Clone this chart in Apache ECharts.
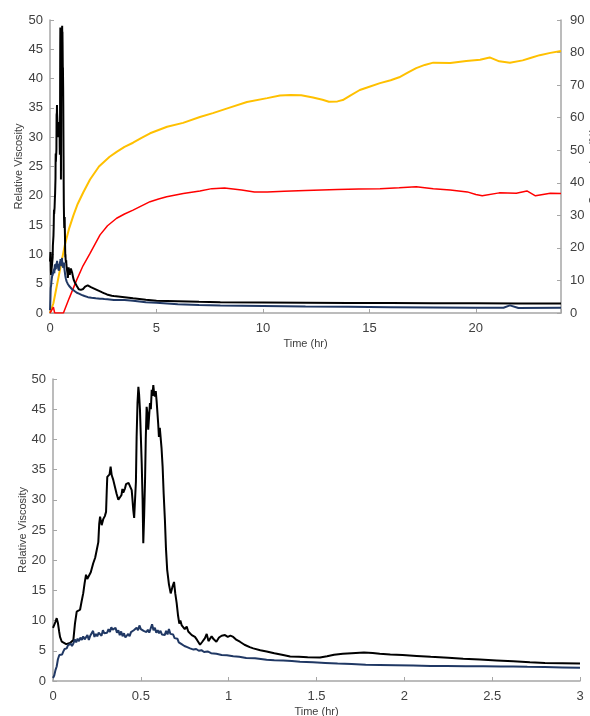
<!DOCTYPE html>
<html lang="en">
  <head>
    <meta charset="UTF-8" />
    <title>Relative Viscosity</title>
    <script src="https://cdn.jsdelivr.net/npm/echarts@6/dist/echarts.min.js"></script>
    <style>
      html, body { margin: 0; padding: 0; background: #fff; }
      #chart { width: 590px; height: 716px; }
    </style>
  </head>
  <body>
    <div id="chart"></div>
    <script>
      // black viscosity curve, first 3 hours (also used in the zoomed chart)
      const blackEarlyT = [0, 0.007, 0.014, 0.021, 0.028, 0.035, 0.04, 0.05, 0.059, 0.075, 0.097, 0.108, 0.116, 0.125, 0.135, 0.145, 0.154, 0.163, 0.172, 0.18, 0.188, 0.195, 0.205, 0.215, 0.229, 0.24, 0.249, 0.258, 0.263, 0.268, 0.277, 0.286, 0.295, 0.302, 0.306, 0.309, 0.316, 0.322, 0.328, 0.334, 0.343, 0.352, 0.362, 0.372, 0.38, 0.39, 0.395, 0.4, 0.41, 0.416, 0.423, 0.43, 0.438, 0.448, 0.452, 0.457, 0.462, 0.467, 0.472, 0.476, 0.481, 0.486, 0.49, 0.495, 0.5, 0.505, 0.51, 0.514, 0.519, 0.524, 0.528, 0.533, 0.538, 0.542, 0.547, 0.552, 0.557, 0.562, 0.566, 0.571, 0.576, 0.58, 0.585, 0.59, 0.594, 0.599, 0.603, 0.608, 0.613, 0.618, 0.624, 0.63, 0.637, 0.643, 0.65, 0.66, 0.67, 0.679, 0.689, 0.696, 0.704, 0.712, 0.719, 0.725, 0.733, 0.742, 0.75, 0.761, 0.77, 0.78, 0.79, 0.808, 0.82, 0.837, 0.85, 0.865, 0.875, 0.885, 0.903, 0.915, 0.93, 0.945, 0.96, 0.979, 0.995, 1.01, 1.026, 1.045, 1.064, 1.09, 1.12, 1.14, 1.18, 1.216, 1.26, 1.31, 1.35, 1.4, 1.45, 1.52, 1.56, 1.6, 1.65, 1.7, 1.77, 1.82, 1.86, 1.92, 1.99, 2.07, 2.15, 2.25, 2.335, 2.43, 2.525, 2.62, 2.715, 2.8, 2.9, 3.0];
      const blackEarlyV = [8.8, 8.7, 9.8, 10.4, 9.6, 8.2, 7.3, 6.5, 6.2, 6.1, 6.3, 6.4, 6.8, 9.5, 11.5, 11.4, 11.8, 13.2, 14.5, 16.2, 17.6, 16.9, 17.1, 18.0, 19.5, 20.4, 21.7, 23.0, 26.0, 27.2, 25.8, 26.8, 27.3, 28.0, 31.5, 33.8, 33.5, 34.2, 35.5, 34.1, 33.3, 32.2, 31.0, 30.0, 29.8, 30.8, 31.8, 31.2, 31.9, 32.6, 32.3, 32.8, 32.7, 31.6, 30.2, 28.3, 27.0, 27.2, 33.0, 40.4, 46.0, 48.7, 47.5, 44.9, 40.5, 36.0, 30.0, 22.8, 27.5, 33.3, 40.0, 45.4, 44.2, 41.6, 43.8, 46.0, 45.0, 48.2, 47.2, 49.0, 47.5, 47.1, 48.0, 46.3, 46.5, 42.5, 40.4, 41.9, 41.8, 38.5, 35.5, 31.0, 26.7, 22.0, 18.4, 16.0, 14.5, 15.5, 16.4, 14.5, 12.9, 10.8, 9.5, 10.0, 9.2, 9.3, 8.6, 9.0, 8.2, 7.9, 7.6, 7.3, 6.8, 6.0, 6.5, 7.1, 7.8, 6.6, 7.4, 6.9, 6.5, 7.2, 7.5, 7.6, 7.3, 7.5, 7.3, 6.8, 6.5, 6.0, 5.6, 5.4, 5.1, 4.9, 4.6, 4.3, 4.05, 4.0, 3.95, 3.9, 4.1, 4.35, 4.5, 4.6, 4.7, 4.65, 4.5, 4.4, 4.3, 4.15, 4.0, 3.85, 3.7, 3.55, 3.4, 3.25, 3.1, 3.0, 2.95, 2.9];
      const blackLateT = [3.5, 3.9, 4.5, 5, 6, 7, 8, 10, 12, 14, 16, 18, 20, 22, 24];
      const blackLateV = [2.7, 2.5, 2.25, 2.1, 2.0, 1.9, 1.85, 1.8, 1.75, 1.7, 1.7, 1.65, 1.65, 1.6, 1.6];

      // navy viscosity curve
      const navyEarlyT = [0, 0.007, 0.014, 0.021, 0.028, 0.036, 0.045, 0.052, 0.059, 0.066, 0.072, 0.078, 0.085, 0.092, 0.1, 0.108, 0.116, 0.124, 0.132, 0.14, 0.148, 0.156, 0.164, 0.172, 0.18, 0.188, 0.196, 0.204, 0.212, 0.22, 0.228, 0.236, 0.244, 0.252, 0.26, 0.268, 0.276, 0.284, 0.292, 0.3, 0.308, 0.316, 0.324, 0.332, 0.34, 0.348, 0.356, 0.364, 0.372, 0.38, 0.388, 0.396, 0.404, 0.412, 0.42, 0.428, 0.436, 0.444, 0.452, 0.46, 0.468, 0.476, 0.484, 0.492, 0.5, 0.508, 0.516, 0.524, 0.532, 0.54, 0.548, 0.556, 0.564, 0.572, 0.58, 0.588, 0.596, 0.604, 0.612, 0.62, 0.628, 0.636, 0.644, 0.652, 0.66, 0.668, 0.676, 0.684, 0.692, 0.7, 0.708, 0.716, 0.724, 0.732, 0.74, 0.748, 0.756, 0.764, 0.772, 0.78, 0.79, 0.8, 0.815, 0.83, 0.845, 0.86, 0.88, 0.9, 0.93, 0.96, 0.99, 1.026, 1.06, 1.1, 1.15, 1.216, 1.26, 1.31, 1.36, 1.406, 1.48, 1.55, 1.62, 1.7, 1.78, 1.86, 1.95, 2.05, 2.15, 2.24, 2.35, 2.45, 2.55, 2.62, 2.7, 2.8, 2.9, 3.0];
      const navyEarlyV = [0.5, 0.9, 1.8, 2.4, 3.6, 4.3, 4.6, 4.4, 4.9, 5.3, 5.0, 5.4, 5.9, 5.6, 6.2, 5.8, 6.2, 6.9, 6.4, 7.0, 6.6, 7.2, 6.8, 7.4, 6.9, 7.1, 7.6, 6.8, 7.5, 7.2, 8.3, 7.3, 7.8, 7.4, 8.0, 7.9, 7.5, 8.4, 7.9, 8.2, 8.0, 8.6, 8.1, 8.9, 8.5, 8.4, 8.8, 8.0, 8.4, 7.6, 8.2, 7.4, 7.9, 7.2, 7.5, 7.8, 7.4, 8.1, 7.8, 8.4, 8.2, 8.8, 8.4, 9.2, 8.6, 8.9, 8.3, 8.6, 8.1, 8.5, 8.0, 8.7, 9.4, 8.4, 8.8, 8.0, 8.4, 7.9, 8.3, 7.7, 8.0, 7.6, 8.3, 7.7, 8.6, 7.8, 7.5, 7.7, 7.1, 6.8, 7.0, 6.4, 6.6, 6.1, 6.3, 5.8, 6.0, 5.6, 5.9, 5.4, 5.6, 5.2, 5.3, 5.0, 5.1, 4.8, 4.9, 4.6, 4.5, 4.3, 4.25, 4.1, 4.0, 3.8, 3.75, 3.5, 3.45, 3.4, 3.3, 3.2, 3.1, 3.0, 2.9, 2.8, 2.7, 2.65, 2.6, 2.55, 2.5, 2.5, 2.45, 2.45, 2.4, 2.4, 2.35, 2.3, 2.25, 2.2];
      const navyLateT = [3.5, 3.9, 4.5, 5, 6, 7, 8, 10, 12, 14, 16, 18, 20, 21.3, 21.6, 22, 24];
      const navyLateV = [2.2, 2.1, 1.85, 1.75, 1.5, 1.37, 1.3, 1.2, 1.1, 1.05, 1.0, 0.95, 0.9, 0.9, 1.3, 0.85, 0.9];

      // right-axis curves (%)
      const yellowT = [0, 0.16, 0.31, 0.55, 0.7, 0.9, 1.1, 1.3, 1.56, 1.88, 2.3, 2.8, 3.13, 3.5, 3.9, 4.3, 4.7, 5.1, 5.5, 6.25, 7.04, 7.65, 8.4, 9.25, 10.2, 10.8, 11.3, 11.8, 12.35, 12.8, 13.1, 13.5, 13.75, 14.1, 14.55, 15.0, 15.5, 16.0, 16.4, 16.8, 17.2, 17.6, 18.0, 18.8, 19.55, 20.2, 20.65, 21.1, 21.6, 22.2, 22.6, 23.0, 23.5, 24];
      const yellowV = [0, 3, 8, 16, 21, 26, 30, 33.5, 37, 41, 45, 48, 49.5, 51, 52.3, 53.8, 55.2, 56.2, 57.2, 58.4, 60.2, 61.4, 63, 64.8, 66, 66.8, 67, 66.9, 66.2, 65.5, 64.9, 65, 65.4, 66.8, 68.5, 69.5, 70.6, 71.5, 72.4, 73.8, 75.2, 76.2, 76.9, 76.8, 77.4, 77.8, 78.5, 77.3, 76.9, 77.6, 78.4, 79.2, 79.9, 80.5];
      const redT = [0, 0.08, 0.16, 0.22, 0.63, 0.9, 1.25, 1.55, 1.88, 2.35, 2.7, 3.13, 3.5, 3.9, 4.3, 4.7, 5.1, 5.48, 6.26, 7.04, 7.6, 8.2, 9.0, 9.6, 10.2, 11, 12, 13.5, 14.5, 15.5, 16.4, 17.2, 18, 18.8, 19.6, 20.0, 20.3, 21.1, 21.9, 22.4, 22.8, 23.5, 24];
      const redV = [0, 0.5, 1.8, 0, 0, 4.5, 10.1, 14.5, 18.3, 24, 26.8, 29.1, 30.4, 31.6, 32.9, 34.2, 35, 35.7, 36.7, 37.5, 38.2, 38.4, 37.8, 37.2, 37.2, 37.4, 37.6, 37.9, 38.1, 38.2, 38.5, 38.8, 38.2, 37.8, 37.2, 36.4, 36.0, 36.9, 36.8, 37.5, 36.0, 36.8, 36.7];

      const pairs = (ts, vs) => ts.map((t, i) => [t, vs[i]]);
      const font = "Liberation Sans";
      const axisGray = "#a6a6a6";
      const labelColor = "#404040";

      function valueAxis(extra) {
        return Object.assign({
          type: "value",
          nameMoveOverlap: false,
          axisLine: { show: true, onZero: false, lineStyle: { color: axisGray, width: 1.5 } },
          axisTick: { show: true, inside: true, length: 4, lineStyle: { color: axisGray } },
          axisLabel: { color: labelColor, fontSize: 13, fontFamily: font },
          splitLine: { show: false },
          nameTextStyle: { color: labelColor, fontSize: 11, fontFamily: font }
        }, extra);
      }

      const chart = echarts.init(document.getElementById("chart"));
      chart.setOption({
        animation: false,
        backgroundColor: "#fff",
        grid: [
          { left: 50, right: 29, top: 20, height: 293, outerBoundsMode: "none", containLabel: false },
          { left: 53, right: 10, top: 379, height: 302, outerBoundsMode: "none", containLabel: false }
        ],
        xAxis: [
          valueAxis({
            gridIndex: 0, min: 0, max: 24, interval: 5,
            name: "Time (hr)", nameLocation: "middle", nameGap: 25,
            axisLabel: { color: labelColor, fontSize: 13, fontFamily: font, margin: 9,
              formatter: v => (v % 5 === 0 ? v : "") }
          }),
          valueAxis({
            gridIndex: 1, min: 0, max: 3, interval: 0.5,
            name: "Time (hr)", nameLocation: "middle", nameGap: 25,
            axisLabel: { color: labelColor, fontSize: 13, fontFamily: font, margin: 9 }
          })
        ],
        yAxis: [
          valueAxis({
            gridIndex: 0, min: 0, max: 50, interval: 5,
            name: "Relative Viscosity", nameLocation: "middle", nameGap: 26,
            axisLabel: { color: labelColor, fontSize: 13, fontFamily: font, margin: 7 }
          }),
          valueAxis({
            gridIndex: 0, position: "right", min: 0, max: 90, interval: 10,
            name: "Conversion (%)", nameLocation: "middle", nameGap: 27, nameRotate: 90,
            axisLabel: { color: labelColor, fontSize: 13, fontFamily: font, margin: 9 }
          }),
          valueAxis({
            gridIndex: 1, min: 0, max: 50, interval: 5,
            name: "Relative Viscosity", nameLocation: "middle", nameGap: 25,
            axisLabel: { color: labelColor, fontSize: 13, fontFamily: font, margin: 7 }
          })
        ],
        series: [
          { type: "line", xAxisIndex: 0, yAxisIndex: 1, showSymbol: false,
            lineStyle: { color: "#ffc000", width: 2 }, data: pairs(yellowT, yellowV) },
          { type: "line", xAxisIndex: 0, yAxisIndex: 1, showSymbol: false,
            lineStyle: { color: "#ff0000", width: 1.5 }, data: pairs(redT, redV) },
          { type: "line", xAxisIndex: 0, yAxisIndex: 0, showSymbol: false,
            lineStyle: { color: "#000000", width: 2 },
            data: pairs(blackEarlyT.concat(blackLateT), blackEarlyV.concat(blackLateV)) },
          { type: "line", xAxisIndex: 0, yAxisIndex: 0, showSymbol: false,
            lineStyle: { color: "#203864", width: 2 },
            data: pairs(navyEarlyT.concat(navyLateT), navyEarlyV.concat(navyLateV)) },
          { type: "line", xAxisIndex: 1, yAxisIndex: 2, showSymbol: false,
            lineStyle: { color: "#000000", width: 2 }, data: pairs(blackEarlyT, blackEarlyV) },
          { type: "line", xAxisIndex: 1, yAxisIndex: 2, showSymbol: false,
            lineStyle: { color: "#203864", width: 2 }, data: pairs(navyEarlyT, navyEarlyV) }
        ]
      });
    </script>
  </body>
</html>
